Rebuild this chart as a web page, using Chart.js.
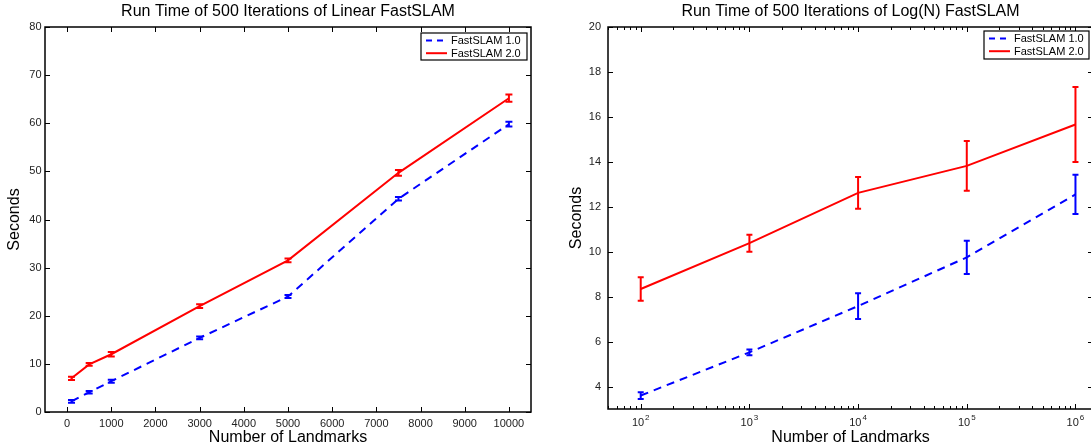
<!DOCTYPE html>
<html>
<head>
<meta charset="utf-8">
<script src="https://cdn.jsdelivr.net/npm/chart.js@4.4.1/dist/chart.umd.min.js"></script>
<style>
html, body { margin: 0; padding: 0; background: #fff; overflow: hidden; width: 1091px; height: 448px; }
#linChart { position: absolute; left: 0; top: 0; }
#logChart { position: absolute; left: 546px; top: 0; }
</style>
</head>
<body>
<canvas id="linChart" width="545" height="448"></canvas>
<canvas id="logChart" width="547" height="448"></canvas>
<script>
const seriesNames = ['FastSLAM 1.0', 'FastSLAM 2.0'];

// linear plot
const landmarksLin = [100, 500, 1000, 3000, 5000, 7500, 10000];
const lin1 = [2.2, 4.1, 6.4, 15.4, 24.0, 44.3, 59.8];
const lin1Err = [0.3, 0.25, 0.3, 0.3, 0.3, 0.35, 0.5];
const lin2 = [7.0, 9.9, 12.0, 22.0, 31.5, 49.7, 65.2];
const lin2Err = [0.35, 0.3, 0.45, 0.4, 0.4, 0.6, 0.75];
const linXTicks = [0, 1000, 2000, 3000, 4000, 5000, 6000, 7000, 8000, 9000, 10000];
const linYTicks = [0, 10, 20, 30, 40, 50, 60, 70, 80];

// log plot
const landmarksLog = [100, 1000, 10000, 100000, 1000000];
const log1 = [3.6, 5.52, 7.58, 9.75, 12.55];
const log1Err = [0.15, 0.13, 0.57, 0.74, 0.87];
const log2 = [8.34, 10.38, 12.62, 13.82, 15.66];
const log2Err = [0.52, 0.38, 0.71, 1.11, 1.67];
const logXTicks = [100, 1000, 10000, 100000, 1000000];
const logYTicks = [4, 6, 8, 10, 12, 14, 16, 18, 20];

const FONT = "'Liberation Sans', Arial, Helvetica, sans-serif";
const BLUE = '#0000ff';
const RED = '#ff0000';

function makeSets(xs, a, aErr, b, bErr) {
    return [
        {
            label: seriesNames[0],
            data: xs.map((x, i) => ({ x: x, y: a[i] })),
            errors: aErr,
            borderColor: BLUE,
            borderWidth: 2,
            borderDash: [8, 6],
            pointRadius: 0,
            fill: false,
            tension: 0,
        },
        {
            label: seriesNames[1],
            data: xs.map((x, i) => ({ x: x, y: b[i] })),
            errors: bErr,
            borderColor: RED,
            borderWidth: 2,
            pointRadius: 0,
            fill: false,
            tension: 0,
        },
    ];
}

// matlab style box, inward ticks, error bars and legend
const matlabAxes = {
    id: 'matlabAxes',
    afterDatasetsDraw(chart, args, opts) {
        const ctx = chart.ctx;
        const xs = chart.scales.x, ys = chart.scales.y;
        ctx.save();
        chart.data.datasets.forEach(ds => {
            ctx.strokeStyle = ds.borderColor;
            ctx.lineWidth = 2;
            ctx.setLineDash([]);
            ds.data.forEach((p, i) => {
                const e = ds.errors[i];
                const x = xs.getPixelForValue(p.x);
                const y0 = ys.getPixelForValue(p.y - e);
                const y1 = ys.getPixelForValue(p.y + e);
                ctx.beginPath();
                ctx.moveTo(x, y0); ctx.lineTo(x, y1);
                ctx.moveTo(x - opts.cap, y0); ctx.lineTo(x + opts.cap, y0);
                ctx.moveTo(x - opts.cap, y1); ctx.lineTo(x + opts.cap, y1);
                ctx.stroke();
            });
        });
        ctx.restore();
    },
    afterDraw(chart, args, opts) {
        const ctx = chart.ctx;
        const a = chart.chartArea;
        const xs = chart.scales.x, ys = chart.scales.y;
        ctx.save();
        ctx.strokeStyle = '#000';
        ctx.lineWidth = 1.5;
        ctx.setLineDash([]);
        ctx.strokeRect(a.left, a.top, a.right - a.left, a.bottom - a.top);

        ctx.lineWidth = 1;
        ctx.beginPath();
        xs.ticks.forEach(t => {
            const x = Math.round(xs.getPixelForValue(t.value)) + 0.5;
            ctx.moveTo(x, a.bottom); ctx.lineTo(x, a.bottom - 5);
            ctx.moveTo(x, a.top); ctx.lineTo(x, a.top + 5);
        });
        ys.ticks.forEach(t => {
            const y = Math.round(ys.getPixelForValue(t.value)) + 0.5;
            ctx.moveTo(a.left, y); ctx.lineTo(a.left + 5, y);
            ctx.moveTo(a.right, y); ctx.lineTo(a.right - 5, y);
        });
        if (opts.minor) {
            for (let d = 1; d <= 6; d++) {
                for (let k = 2; k <= 9; k++) {
                    const v = k * Math.pow(10, d);
                    if (v < xs.min || v > xs.max) continue;
                    const x = Math.round(xs.getPixelForValue(v)) + 0.5;
                    ctx.moveTo(x, a.bottom); ctx.lineTo(x, a.bottom - 3);
                    ctx.moveTo(x, a.top); ctx.lineTo(x, a.top + 3);
                }
            }
        }
        ctx.stroke();

        // power-of-ten tick labels
        if (opts.powerLabels) {
            ctx.fillStyle = '#222';
            ctx.textBaseline = 'alphabetic';
            ctx.textAlign = 'left';
            opts.powerLabels.forEach(v => {
                const x = xs.getPixelForValue(v);
                const exp = String(Math.round(Math.log10(v)));
                ctx.font = '11px ' + FONT;
                const w1 = ctx.measureText('10').width;
                ctx.font = '8px ' + FONT;
                const w2 = ctx.measureText(exp).width;
                const x0 = x - (w1 + w2 + 1) / 2;
                ctx.font = '11px ' + FONT;
                ctx.fillText('10', x0, a.bottom + 17);
                ctx.font = '8px ' + FONT;
                ctx.fillText(exp, x0 + w1 + 1, a.bottom + 10.5);
            });
        }

        // legend box
        const lg = opts.legend;
        const bx = a.right - lg.dx - lg.w;
        const by = a.top + lg.dy;
        ctx.fillStyle = '#fff';
        ctx.fillRect(bx, by, lg.w, lg.h);
        ctx.strokeStyle = '#000';
        ctx.lineWidth = 1.2;
        ctx.strokeRect(bx, by, lg.w, lg.h);
        ctx.font = '11px ' + FONT;
        ctx.textBaseline = 'middle';
        ctx.textAlign = 'left';
        chart.data.datasets.forEach((ds, i) => {
            const y = by + 7.5 + i * 12.7;
            ctx.strokeStyle = ds.borderColor;
            ctx.lineWidth = 2;
            ctx.setLineDash(ds.borderDash ? [6, 5] : []);
            ctx.beginPath();
            ctx.moveTo(bx + 5, y); ctx.lineTo(bx + 26, y);
            ctx.stroke();
            ctx.setLineDash([]);
            ctx.fillStyle = '#000';
            ctx.fillText(ds.label, bx + 30, y + 0.5);
        });
        ctx.restore();
    }
};

function baseOptions(cfg) {
    return {
        responsive: false,
        animation: false,
        layout: { padding: { left: 0, right: cfg.padRight, top: 0, bottom: 0 } },
        plugins: {
            legend: { display: false },
            tooltip: { enabled: false },
            title: {
                display: true,
                text: cfg.title,
                fullSize: false,
                color: '#000',
                font: { family: FONT, size: 16, weight: 'normal' },
                padding: { top: 2, bottom: 5.8 },
            },
            matlabAxes: cfg.frame,
        },
        scales: {
            x: Object.assign({
                grid: { display: false, drawTicks: false },
                border: { display: false },
                ticks: {
                    autoSkip: false,
                    maxRotation: 0,
                    color: '#222',
                    padding: 5,
                    font: { family: FONT, size: 11 },
                },
                title: {
                    display: true,
                    text: 'Number of Landmarks',
                    color: '#000',
                    font: { family: FONT, size: 16 },
                    padding: { top: 0, bottom: 1 },
                },
                afterFit: s => { s.height = cfg.xHeight; },
            }, cfg.x),
            y: Object.assign({
                grid: { display: false, drawTicks: false },
                border: { display: false },
                ticks: {
                    autoSkip: false,
                    color: '#222',
                    padding: cfg.yTickPad,
                    font: { family: FONT, size: 11 },
                },
                title: {
                    display: true,
                    text: 'Seconds',
                    color: '#000',
                    font: { family: FONT, size: 16 },
                    padding: { top: cfg.yTitlePad, bottom: 0 },
                },
                afterFit: s => { s.width = cfg.yWidth; },
            }, cfg.y),
        },
    };
}

const linOpts = baseOptions({
    title: 'Run Time of 500 Iterations of Linear FastSLAM',
    padRight: 14,
    xHeight: 36,
    yWidth: 45,
    yTitlePad: 5,
    yTickPad: 3.5,
    frame: { cap: 3.5, legend: { w: 106, h: 27, dx: 4, dy: 6 } },
    x: {
        type: 'linear',
        min: -500,
        max: 10500,
        afterBuildTicks: s => { s.ticks = linXTicks.map(v => ({ value: v })); },
    },
    y: {
        type: 'linear',
        min: 0,
        max: 80,
        afterBuildTicks: s => { s.ticks = linYTicks.map(v => ({ value: v })); },
    },
});
linOpts.scales.x.ticks.callback = v => String(v);

const logOpts = baseOptions({
    title: 'Run Time of 500 Iterations of Log(N) FastSLAM',
    padRight: 0,
    xHeight: 39,
    yWidth: 62,
    yTitlePad: 21,
    yTickPad: 7,
    frame: { cap: 3, minor: true, powerLabels: logXTicks, legend: { w: 105, h: 28, dx: 4, dy: 4 } },
    x: {
        type: 'logarithmic',
        min: 50,
        max: 1450000,
        afterBuildTicks: s => { s.ticks = logXTicks.map(v => ({ value: v, major: true })); },
    },
    y: {
        type: 'linear',
        min: 3,
        max: 20,
        afterBuildTicks: s => { s.ticks = logYTicks.map(v => ({ value: v })); },
    },
});
logOpts.scales.x.ticks.display = false;
logOpts.scales.x.ticks.padding = 0;

new Chart(document.getElementById('linChart').getContext('2d'), {
    type: 'line',
    data: { datasets: makeSets(landmarksLin, lin1, lin1Err, lin2, lin2Err) },
    options: linOpts,
    plugins: [matlabAxes],
});

new Chart(document.getElementById('logChart').getContext('2d'), {
    type: 'line',
    data: { datasets: makeSets(landmarksLog, log1, log1Err, log2, log2Err) },
    options: logOpts,
    plugins: [matlabAxes],
});
</script>
</body>
</html>
